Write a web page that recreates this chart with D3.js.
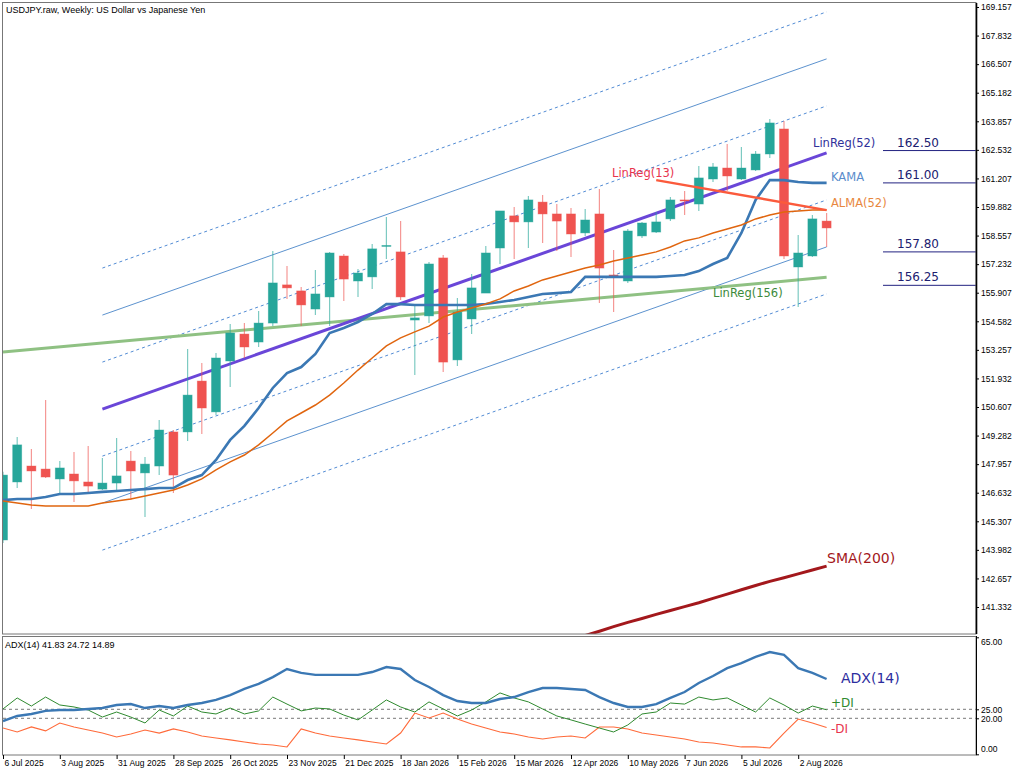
<!DOCTYPE html>
<html lang='en'>
<head>
  <meta charset='UTF-8'>
  <title>USDJPY Weekly</title>
  <style>
    body { margin: 0; background: #fff; }
    text { font-family: 'Liberation Sans', Arial, sans-serif; }
    .lbl { font-family: 'DejaVu Sans', Verdana, sans-serif; }
  </style>
</head>
<body>
  <script src='https://cdn.jsdelivr.net/npm/d3@7/dist/d3.min.js'></script>
  <script>
// weekly bars, 6 Jul 2025 .. 16 Aug 2026
const open  = [144.44,147.13,147.87,147.73,147.27,147.50,147.13,146.80,147.08,148.10,147.55,147.87,149.45,149.45,151.81,150.38,152.74,153.99,153.62,154.50,156.27,155.99,155.15,155.71,157.61,156.45,156.64,158.07,157.80,154.64,154.83,157.52,152.79,154.69,155.89,157.98,159.47,159.19,160.11,159.56,159.56,158.68,159.56,156.73,156.45,158.54,158.72,159.33,160.21,160.02,161.18,161.69,161.18,161.60,162.34,163.50,157.10,157.61,159.23];
const high  = [147.60,149.22,148.66,150.93,148.10,148.52,148.80,148.24,149.17,148.57,148.29,150.00,149.54,153.30,152.65,153.11,154.46,154.50,155.06,157.84,157.15,156.17,156.96,157.80,157.70,157.01,158.17,159.42,159.23,155.34,157.33,157.66,155.66,156.78,158.07,159.70,159.88,160.39,160.44,160.02,159.84,159.79,160.72,157.89,158.86,159.19,159.65,160.35,160.62,161.78,161.92,162.80,162.67,162.48,163.96,163.87,158.58,159.51,159.60];
const low   = [144.30,146.85,145.88,147.32,146.62,146.20,146.62,146.76,146.76,146.29,145.51,147.45,146.62,149.03,149.36,150.24,151.54,152.88,153.39,154.36,155.62,154.36,154.87,154.36,155.52,155.71,156.08,157.47,155.57,152.09,154.50,152.23,152.51,153.99,155.89,157.24,157.47,157.98,158.21,157.84,157.56,158.54,155.43,155.01,156.36,158.45,158.68,159.23,159.51,159.70,161.04,160.62,161.13,161.55,162.15,157.47,155.25,157.56,158.03];
const close = [147.45,148.85,147.64,147.36,147.78,147.18,146.94,147.08,147.41,147.64,147.96,149.54,147.45,151.16,150.56,152.88,154.04,153.39,154.50,156.36,156.13,155.34,155.85,157.75,156.54,156.82,157.94,158.10,155.71,154.74,157.24,152.69,155.01,156.13,157.75,159.70,159.19,160.21,159.56,159.23,158.63,159.28,157.05,156.64,158.77,159.14,159.19,160.21,160.16,161.23,161.74,161.32,161.69,162.34,163.78,157.61,157.75,159.33,158.91];

const kama = [146.29,146.34,146.34,146.43,146.57,146.57,146.62,146.67,146.71,146.76,146.80,146.85,146.85,147.22,147.45,148.15,149.08,149.73,150.56,151.49,152.18,152.46,153.07,154.04,154.27,154.55,154.92,155.38,155.38,155.34,155.34,155.34,155.34,155.34,155.38,155.48,155.57,155.71,155.85,155.89,155.94,156.64,156.64,156.64,156.64,156.64,156.64,156.68,156.73,156.91,157.24,157.52,158.68,160.21,161.13,161.13,161.04,161.00,161.00];
const alma = [146.25,146.16,146.06,146.02,146.02,146.02,146.02,146.16,146.25,146.34,146.48,146.62,146.76,146.99,147.27,147.69,148.06,148.38,148.85,149.40,149.96,150.33,150.70,151.16,151.72,152.32,152.88,153.44,153.81,154.09,154.36,154.78,155.01,155.20,155.38,155.62,155.99,156.22,156.50,156.68,156.87,157.05,157.19,157.38,157.52,157.66,157.80,158.03,158.31,158.45,158.68,158.86,159.05,159.33,159.51,159.65,159.70,159.74,159.74];
// SMA(200) from bar 41 on
const smaStart = 41;
const sma200 = [140.01,140.21,140.42,140.62,140.80,140.99,141.17,141.35,141.53,141.73,141.93,142.13,142.33,142.52,142.69,142.87,143.05,143.23];

// regression lines: [startBar, startValue, endBar, endValue]
const linReg52  = [7, 150.51, 58, 162.39];
const linReg13  = [46, 161.13, 58, 159.74];
const linReg156 = [0, 153.16, 58, 156.62];
const channelSigma = 2.18;

const adx     = [18.5,21.3,22.4,24.1,24.6,24.6,25.2,25.7,27.4,27.9,25.7,26.8,25.7,27.4,28.5,30.2,32.9,36.3,39.1,42.9,47.4,45.2,44.1,44.1,44.1,44.1,45.7,48.5,47.4,41.3,37.4,32.9,29.6,28.5,28.5,30.7,31.8,34.6,36.8,36.8,36.3,35.7,31.8,28.5,26.3,26.3,27.9,31.3,34.6,39.6,43.5,47.9,50.7,54.1,56.8,55.2,47.9,45.2,41.83];
const plusDI  = [25.2,31.3,26.8,31.8,27.4,26.3,24.6,20.7,23.5,20.7,17.4,24.6,21.3,26.8,23.5,22.4,25.7,22.4,24.1,31.8,27.9,24.1,25.7,25.2,21.8,19.1,24.6,30.2,26.3,23.5,29.1,25.2,21.3,24.6,29.1,34.1,31.3,29.1,25.2,21.3,19.1,16.8,14.6,12.4,16.3,22.4,23.5,28.5,27.9,31.8,30.2,31.3,27.4,23.5,31.3,27.4,22.9,26.8,24.72];
const minusDI = [14.6,12.4,15.2,13.0,17.4,15.2,13.5,11.8,9.6,11.3,13.5,11.8,14.1,12.4,10.2,9.1,8.0,6.8,5.7,5.2,4.1,14.1,11.8,10.2,9.1,8.0,6.8,5.7,11.8,22.9,20.2,22.9,19.6,16.8,14.6,12.4,11.3,9.6,8.5,9.6,10.2,9.1,15.2,15.2,14.1,11.8,10.7,9.6,8.5,6.8,6.3,5.2,4.1,4.1,3.5,11.8,19.6,17.4,14.89];

const priceTicks = [141.332,142.657,143.982,145.307,146.632,147.957,149.282,150.607,151.932,153.257,154.582,155.907,157.232,158.557,159.882,161.207,162.532,163.857,165.182,166.507,167.832,169.157];
const adxTicks = [0, 20, 25, 65];
const adxLevels = [20, 25];
const dateTicks = [0,4,8,12,16,20,24,28,32,36,40,44,48,52,56];
const dateLabels = ['6 Jul 2025','3 Aug 2025','31 Aug 2025','28 Sep 2025','26 Oct 2025','23 Nov 2025','21 Dec 2025','18 Jan 2026','15 Feb 2026','15 Mar 2026','12 Apr 2026','10 May 2026','7 Jun 2026','5 Jul 2026','2 Aug 2026'];
const priceMarks = [162.50, 161.00, 157.80, 156.25];

const width = 1024, height = 773;
const L = 3, R = 976, mainTop = 3, mainBot = 634, subTop = 636, subBot = 755;

const svg = d3.select('body').append('svg')
  .attr('width', width).attr('height', height);

const x = d3.scaleLinear().domain([0, 58]).range([3, 826.6]);
const y = d3.scaleLinear().domain([141.332, 169.157]).range([607, 7]);
const ya = d3.scaleLinear().domain([0, 65]).range([754.3, 637.3]);

const defs = svg.append('defs');
defs.append('clipPath').attr('id', 'cm').append('rect')
  .attr('x', L).attr('y', mainTop).attr('width', R - L).attr('height', mainBot - mainTop);
defs.append('clipPath').attr('id', 'cs').append('rect')
  .attr('x', L).attr('y', subTop).attr('width', R - L).attr('height', subBot - subTop);

const main = svg.append('g').attr('clip-path', 'url(#cm)');
const sub = svg.append('g').attr('clip-path', 'url(#cs)');

const seg = (g, r, off, color, w, dash) => g.append('line')
  .attr('x1', x(r[0])).attr('y1', y(r[1] + off))
  .attr('x2', x(r[2])).attr('y2', y(r[3] + off))
  .attr('stroke', color).attr('stroke-width', w)
  .attr('stroke-dasharray', dash || null);

// regression channel
[-3, -1, 1, 3].forEach(k => seg(main, linReg52, k * channelSigma, '#3f7fcf', 0.9, '3,3'));
[-2, 2].forEach(k => seg(main, linReg52, k * channelSigma, '#4a86c8', 0.9));
seg(main, linReg156, 0, '#8fc183', 3);
seg(main, linReg52, 0, '#6a46d8', 3);

// candles
const idx = d3.range(open.length);
const cg = main.selectAll('g.c').data(idx).enter().append('g');
const col = i => close[i] >= open[i] ? '#26a69a' : '#ef5350';
cg.append('line')
  .attr('x1', i => x(i)).attr('x2', i => x(i))
  .attr('y1', i => y(high[i])).attr('y2', i => y(low[i]))
  .attr('stroke', col).attr('stroke-opacity', 0.6).attr('stroke-width', 1.2);
cg.append('rect')
  .attr('x', i => x(i) - 4.5).attr('width', 9)
  .attr('y', i => y(Math.max(open[i], close[i])))
  .attr('height', i => Math.max(1, y(Math.min(open[i], close[i])) - y(Math.max(open[i], close[i]))))
  .attr('fill', col).attr('stroke', col).attr('stroke-opacity', 0.5).attr('stroke-width', 0.8);

// moving averages
const line = d3.line().x((d, i) => x(i)).y(d => y(d));
main.append('path').datum(kama).attr('d', line)
  .attr('fill', 'none').attr('stroke', '#3b78b4').attr('stroke-width', 2.6);
main.append('path').datum(alma).attr('d', line)
  .attr('fill', 'none').attr('stroke', '#e0650f').attr('stroke-width', 1.5);
seg(main, linReg13, 0, '#fb5a3c', 2.4);
main.append('path').datum(sma200)
  .attr('d', d3.line().x((d, i) => x(i + smaStart)).y(d => y(d)))
  .attr('fill', 'none').attr('stroke', '#a3181c').attr('stroke-width', 3);

// labels on the chart
const label = (tx, ty, txt, color, size) => svg.append('text').attr('class', 'lbl')
  .attr('x', tx).attr('y', ty).attr('fill', color).attr('font-size', size).text(txt);
label(813, 147, 'LinReg(52)', '#30309a', 11.5);
label(831, 181, 'KAMA', '#5a8ccb', 11.5);
label(831, 207, 'ALMA(52)', '#e8873e', 11.5);
label(612, 177, 'LinReg(13)', '#e8344e', 11.5);
label(713, 297, 'LinReg(156)', '#3c8a3c', 11.5);
label(827, 563, 'SMA(200)', '#a3181c', 14);

// price marks on the right
priceMarks.forEach(p => {
  svg.append('line').attr('x1', 883).attr('x2', R).attr('y1', y(p)).attr('y2', y(p))
    .attr('stroke', '#222280').attr('stroke-width', 1);
  label(897, y(p) - 4, p.toFixed(2), '#202070', 12);
});

// ADX window
adxLevels.forEach(v => sub.append('line')
  .attr('x1', L).attr('x2', R).attr('y1', ya(v)).attr('y2', ya(v))
  .attr('stroke', '#555').attr('stroke-width', 0.8).attr('stroke-dasharray', '3,3'));
const aline = d3.line().x((d, i) => x(i)).y(d => ya(d));
sub.append('path').datum(minusDI).attr('d', aline)
  .attr('fill', 'none').attr('stroke', '#ff6a3a').attr('stroke-width', 1.1);
sub.append('path').datum(plusDI).attr('d', aline)
  .attr('fill', 'none').attr('stroke', '#2f8a2f').attr('stroke-width', 1);
sub.append('path').datum(adx).attr('d', aline)
  .attr('fill', 'none').attr('stroke', '#3b78b4').attr('stroke-width', 2.4);
label(841, 683, 'ADX(14)', '#2d2d9e', 14);
label(831, 707, '+DI', '#2f8a2f', 12);
label(831, 733, '-DI', '#e8344e', 12);

// frames
svg.append('rect').attr('x', 2.5).attr('y', 2.5).attr('width', R - 2.5).attr('height', mainBot - 2.5)
  .attr('fill', 'none').attr('stroke', '#777');
svg.append('rect').attr('x', 2.5).attr('y', subTop + 0.5).attr('width', R - 2.5).attr('height', subBot - subTop - 0.5)
  .attr('fill', 'none').attr('stroke', '#777');

// axes
const ay = svg.append('g').attr('transform', `translate(${R},0)`)
  .call(d3.axisRight(y).tickValues(priceTicks).tickSize(3).tickPadding(2).tickFormat(d => d.toFixed(3)));
ay.select('.domain').attr('d', `M0.5,${mainTop}V${mainBot}`).attr('stroke', '#000').attr('stroke-width', 1.6);

const aa = svg.append('g').attr('transform', `translate(${R},0)`)
  .call(d3.axisRight(ya).tickValues(adxTicks).tickSize(3).tickPadding(2).tickFormat(d => d.toFixed(2)));
aa.select('.domain').attr('d', `M0.5,${subTop}V${subBot}`).attr('stroke', '#000').attr('stroke-width', 1);
aa.selectAll('.tick text').attr('dy', d => d === 65 ? '0.9em' : d === 0 ? '-0.3em' : '0.32em');

const ax = svg.append('g').attr('transform', `translate(0,${subBot})`)
  .call(d3.axisBottom(x).tickValues(dateTicks).tickSize(4).tickFormat((d, i) => dateLabels[i]));
ax.select('.domain').remove();
ax.selectAll('.tick text').attr('text-anchor', 'start').attr('x', 1).attr('y', 5);

svg.selectAll('.tick text').attr('font-size', 8.5).attr('font-family', "'Liberation Sans', Arial, sans-serif").attr('fill', '#000');
svg.selectAll('.tick line').attr('stroke', '#000');

// headers
svg.append('text').attr('x', 6).attr('y', 13).attr('font-size', 9).text('USDJPY.raw, Weekly:  US Dollar vs Japanese Yen');
svg.append('text').attr('x', 5).attr('y', 648).attr('font-size', 9).text('ADX(14) 41.83 24.72 14.89');
  </script>
</body>
</html>
